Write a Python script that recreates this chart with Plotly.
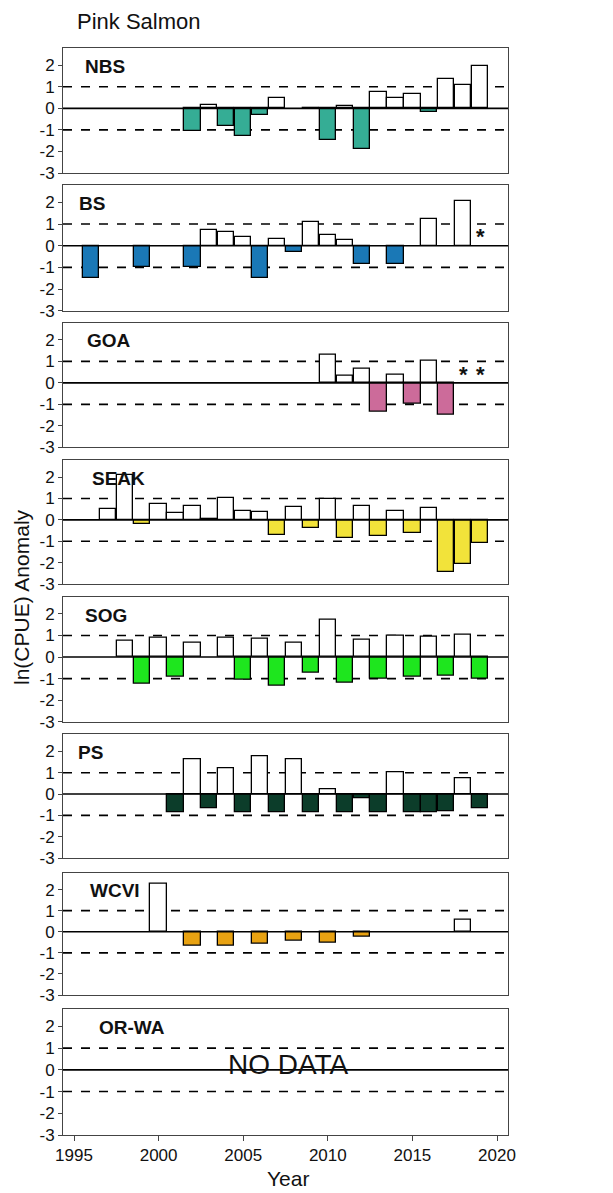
import plotly.graph_objects as go

# ---------------- data ----------------
regions = ["NBS", "BS", "GOA", "SEAK", "SOG", "PS", "WCVI", "OR-WA"]
colors = ["#35ad95", "#1a78b6", "#cc6b9a", "#f2e33a", "#1ee61e", "#0c3d2a", "#e8a212", "#888888"]

nbs_years = [2002, 2003, 2004, 2005, 2006, 2007, 2009, 2010, 2011, 2012, 2013, 2014, 2015, 2016, 2017, 2018, 2019]
nbs_vals = [-1.03, 0.14, -0.8, -1.27, -0.29, 0.48, -0.03, -1.46, 0.1, -1.88, 0.75, 0.49, 0.68, -0.18, 1.34, 1.08, 1.95]

bs_years = [1996, 1999, 2002, 2003, 2004, 2005, 2006, 2007, 2008, 2009, 2010, 2011, 2012, 2014, 2016, 2018]
bs_vals = [-1.51, -1.0, -1.0, 0.72, 0.63, 0.42, -1.5, 0.32, -0.3, 1.08, 0.49, 0.28, -0.86, -0.82, 1.22, 2.06]

goa_years = [2010, 2011, 2012, 2013, 2014, 2015, 2016, 2017]
goa_vals = [1.32, 0.33, 0.64, -1.35, 0.39, -0.99, 1.05, -1.47]

seak_years = [1997, 1998, 1999, 2000, 2001, 2002, 2003, 2004, 2005, 2006, 2007, 2008, 2009,
              2010, 2011, 2012, 2013, 2014, 2015, 2016, 2017, 2018, 2019]
seak_vals = [0.5, 2.08, -0.17, 0.76, 0.32, 0.64, 0.03, 1.0, 0.43, 0.37, -0.73, 0.6, -0.37,
             0.99, -0.86, 0.63, -0.75, 0.4, -0.63, 0.55, -2.46, -2.06, -1.07]

sog_years = [1998, 1999, 2000, 2001, 2002, 2004, 2005, 2006, 2007, 2008, 2009, 2010, 2011,
             2012, 2013, 2014, 2015, 2016, 2017, 2018, 2019]
sog_vals = [0.76, -1.22, 0.88, -0.9, 0.67, 0.88, -1.04, 0.85, -1.32, 0.67, -0.74, 1.71, -1.18,
            0.81, -1.0, 0.98, -0.93, 0.95, -0.87, 1.02, -1.0]

ps_years = [2001, 2002, 2003, 2004, 2005, 2006, 2007, 2008, 2009, 2010, 2011, 2012, 2013,
            2014, 2015, 2016, 2017, 2018, 2019]
ps_vals = [-0.84, 1.62, -0.66, 1.22, -0.84, 1.77, -0.84, 1.61, -0.84, 0.2, -0.84, -0.18, -0.84,
           1.0, -0.84, -0.84, -0.81, 0.75, -0.69]

wcvi_years = [2000, 2002, 2004, 2006, 2008, 2010, 2012, 2018]
wcvi_vals = [2.3, -0.64, -0.64, -0.59, -0.43, -0.54, -0.22, 0.56]

orwa_years = []
orwa_vals = []

series = [(nbs_years, nbs_vals), (bs_years, bs_vals), (goa_years, goa_vals), (seak_years, seak_vals),
          (sog_years, sog_vals), (ps_years, ps_vals), (wcvi_years, wcvi_vals), (orwa_years, orwa_vals)]

# asterisks (no-survey markers): panel index, year, y
star_panel = [1, 2, 2]
star_year = [2019, 2018, 2019]
star_y = [0.42, 0.38, 0.38]

y_ticks = [-3, -2, -1, 0, 1, 2]
y_tick_text = ["-3", "-2", "-1", "0", "1", "2"]
x_ticks = [1995, 2000, 2005, 2010, 2015, 2020]

# ---------------- layout geometry (page pixels; page body has 8px margin) ----------------
OFF = 8
PAGE_W, PAGE_H = 613, 1193
W, H = PAGE_W - OFF, PAGE_H - OFF
L_PX, R_PX, T_PX, B_PX = 63, 508, 48, 1135   # plot-area edges in page pixels
ML, MR, MT, MB = L_PX - OFF, PAGE_W - R_PX, T_PX - OFF, PAGE_H - B_PX
PW = R_PX - L_PX
PH = B_PX - T_PX
panel_top = [48, 185, 322.7, 460, 596.7, 734.3, 872.7, 1009]
panel_bot = [173, 310.8, 447.3, 584, 721.7, 858, 995, 1135]
label_px = [83, 77, 85, 90, 83, 76, 88, 97]


def py(p):
    return (B_PX - p) / PH


def px(p):
    return (p - L_PX) / PW


FONT = "Liberation Sans, Arial"
fig = go.Figure()
layout = {}
shapes = []
annotations = []

for i, (name, col, (yrs, vals)) in enumerate(zip(regions, colors, series)):
    k = i + 1
    xa = "x" if k == 1 else f"x{k}"
    ya = "y" if k == 1 else f"y{k}"
    fills = ["white" if v >= 0 else col for v in vals]
    fig.add_trace(go.Bar(x=yrs, y=vals, width=0.96, marker=dict(color=fills, line=dict(color="black", width=1.3)),
                         xaxis=xa, yaxis=ya, showlegend=False))
    xkey = "xaxis" if k == 1 else f"xaxis{k}"
    ykey = "yaxis" if k == 1 else f"yaxis{k}"
    last = (k == len(regions))
    layout[xkey] = dict(range=[1994.35, 2020.65], domain=[0, 1], anchor=ya,
                        showline=True, mirror=True, linecolor="#444", linewidth=1,
                        showgrid=False, zeroline=False,
                        tickvals=x_ticks if last else [], showticklabels=last,
                        ticks="outside" if last else "", ticklen=5, tickcolor="#444",
                        tickfont=dict(size=17, color="#111", family=FONT))
    if k > 1:
        layout[xkey]["matches"] = "x"
    layout[ykey] = dict(range=[-3, 2.8], domain=[py(panel_bot[i]), py(panel_top[i])], anchor=xa,
                        showline=True, mirror=True, linecolor="#444", linewidth=1,
                        showgrid=False, zeroline=False, tickvals=y_ticks, ticktext=y_tick_text,
                        ticks="outside", ticklen=4, tickcolor="#444",
                        tickfont=dict(size=17, color="#111", family=FONT))
    for yv, dash in [(1, "dash"), (-1, "dash"), (0, "solid")]:
        shapes.append(dict(type="line", xref=f"{xa} domain", yref=ya, x0=0, x1=1, y0=yv, y1=yv,
                           line=dict(color="black", width=1.6, dash=dash), layer="above" if yv == 0 else "below"))
    annotations.append(dict(text=f"<b>{name}</b>", xref="paper", yref=ya, x=px(label_px[i]),
                            y=1.95, xanchor="left", yanchor="middle", showarrow=False,
                            font=dict(size=19, color="#111", family=FONT)))

for p, yr, yv in zip(star_panel, star_year, star_y):
    ya = "y" if p == 0 else f"y{p + 1}"
    xa = "x" if p == 0 else f"x{p + 1}"
    annotations.append(dict(text="<b>*</b>", xref=xa, yref=ya, x=yr, y=yv, showarrow=False,
                            font=dict(size=22, color="#111", family=FONT)))

annotations.append(dict(text="NO DATA", xref="paper", yref="y8", x=px(288), y=0.25, showarrow=False,
                        xanchor="center", yanchor="middle",
                        font=dict(size=28, color="#111", family=FONT)))
annotations.append(dict(text="Pink Salmon", xref="paper", yref="paper", x=px(75),
                        y=py(22), xanchor="left", yanchor="middle", showarrow=False,
                        font=dict(size=22, color="#111", family=FONT)))
annotations.append(dict(text="ln(CPUE) Anomaly", xref="paper", yref="paper", x=px(21),
                        y=py(597), xanchor="center", yanchor="middle", textangle=-90, showarrow=False,
                        font=dict(size=21, color="#111", family=FONT)))
annotations.append(dict(text="Year", xref="paper", yref="paper", x=px(288),
                        y=py(1178), xanchor="center", yanchor="middle", showarrow=False,
                        font=dict(size=21, color="#111", family=FONT)))

fig.update_layout(width=W, height=H, margin=dict(l=ML, r=MR, t=MT, b=MB),
                  paper_bgcolor="white", plot_bgcolor="white", bargap=0,
                  shapes=shapes, annotations=annotations, **layout)

fig.write_html("out.html")
